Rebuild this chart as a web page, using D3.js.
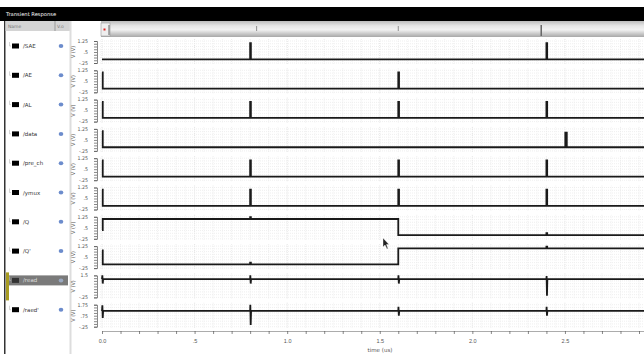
<!DOCTYPE html>
<html>
<head>
<meta charset="utf-8">
<script src="https://cdn.jsdelivr.net/npm/d3@7"></script>
<style>
  html, body { margin: 0; padding: 0; background: #fff; }
  svg { display: block; font-family: "DejaVu Sans", sans-serif; }
  .narrow { font-family: "Liberation Sans Narrow", "DejaVu Sans Condensed", sans-serif; }
</style>
</head>
<body>
<svg id="chart" width="644" height="354"></svg>
<script>
// signal names shown in the left list
const names = ["/SAE", "/AE", "/AL", "/data", "/pre_ch", "/ymux", "/Q", "/Q'", "/read", "/raed'"];

// y domain + tick labels for each strip
const yDomains = [
  [-0.25, 1.25], [-0.25, 1.25], [-0.25, 1.25], [-0.25, 1.25], [-0.25, 1.25],
  [-0.25, 1.25], [-0.25, 1.25], [-0.25, 1.25], [-0.25, 1.5], [-0.25, 1.75]
];
const yTickLabels = [
  [1.25, 0.5, -0.25], [1.25, 0.5, -0.25], [1.25, 0.5, -0.25], [1.25, 0.5, -0.25], [1.25, 0.5, -0.25],
  [1.25, 0.5, -0.25], [1.25, 0.5, -0.25], [1.25, 0.5, -0.25], [1.5, -0.25], [1.75, 0.75, -0.25]
];

// x axis
const timeDomain = [0, 2.927];
const xTickLabels = ["0.0", ".5", "1.0", "1.5", "2.0", "2.5"];

// waveforms: [time (us), volts]
const sae = [[0,0],[0.8,0],[0.8,1.1],[0.804,1.1],[0.804,0],[2.4,0],[2.4,1.1],[2.404,1.1],[2.404,0],[2.927,0]];
const ae = [[0,1.1],[0.004,1.1],[0.004,0],[1.6,0],[1.6,1.1],[1.604,1.1],[1.604,0],[2.927,0]];
const al = [[0,1.1],[0.004,1.1],[0.004,0],[0.8,0],[0.8,1.1],[0.804,1.1],[0.804,0],[1.6,0],[1.6,1.1],[1.604,1.1],[1.604,0],[2.4,0],[2.4,1.1],[2.404,1.1],[2.404,0],[2.927,0]];
const data = [[0,1.1],[0.004,1.1],[0.004,0],[2.502,0],[2.502,1.0],[2.51,1.0],[2.51,0],[2.927,0]];
const preCh = [[0,1.1],[0.004,1.1],[0.004,0],[0.8,0],[0.8,1.1],[0.804,1.1],[0.804,0],[1.6,0],[1.6,1.1],[1.604,1.1],[1.604,0],[2.4,0],[2.4,1.1],[2.404,1.1],[2.404,0],[2.927,0]];
const ymux = [[0,1.1],[0.004,1.1],[0.004,0],[0.8,0],[0.8,1.1],[0.804,1.1],[0.804,0],[1.6,0],[1.6,1.1],[1.604,1.1],[1.604,0],[2.4,0],[2.4,1.1],[2.404,1.1],[2.404,0],[2.927,0]];
const q = [[0,0.35],[0.004,0.35],[0.004,1.1],[0.8,1.1],[0.8,1.22],[0.804,1.22],[0.804,1.1],[1.6,1.1],[1.6,0],[2.4,0],[2.4,0.14],[2.404,0.14],[2.404,0],[2.927,0]];
const qb = [[0,0.95],[0.004,0.95],[0.004,0],[0.8,0],[0.8,0.12],[0.804,0.12],[0.804,0],[1.6,0],[1.6,1.1],[2.4,1.1],[2.4,1.22],[2.404,1.22],[2.404,1.1],[2.927,1.1]];
const read = [[0,1.2],[0.002,1.5],[0.004,0.85],[0.006,1.2],[0.8,1.2],[0.801,1.5],[0.803,0.85],[0.805,1.2],[1.6,1.2],[1.601,1.5],[1.603,0.85],[1.605,1.2],[2.4,1.2],[2.401,1.45],[2.403,-0.12],[2.405,1.2],[2.927,1.2]];
const raed = [[0,1.18],[0.002,1.7],[0.004,0.55],[0.006,1.18],[0.8,1.18],[0.801,1.75],[0.803,-0.1],[0.805,1.18],[1.6,1.18],[1.601,1.55],[1.603,0.75],[1.605,1.18],[2.4,1.18],[2.401,1.55],[2.403,0.75],[2.405,1.18],[2.927,1.18]];
const waves = [sae, ae, al, data, preCh, ymux, q, qb, read, raed];

const svg = d3.select("#chart");
const W = 644, H = 354;
const plotLeft = 100;
const rowStep = 29.3, firstBottom = 63, stripH = 22;

const x = d3.scaleLinear().domain(timeDomain).range([102, 644]);

// cadence style: drop the leading zero ("-.25", ".5")
const fmtV = d => String(d).replace(/^(-?)0\./, "$1.");

// ---- window chrome ----
svg.append("rect").attr("x", 0).attr("y", 7).attr("width", W).attr("height", 14).attr("fill", "#000");
svg.append("text").attr("x", 6).attr("y", 16).attr("fill", "#fff")
  .style("font-size", "5.2px").text("Transient Response");

// left panel
svg.append("rect").attr("x", 4).attr("y", 21).attr("width", 1.5).attr("height", H - 21).attr("fill", "#333");
svg.append("rect").attr("x", 5.5).attr("y", 21).attr("width", 64.5).attr("height", 10).attr("fill", "#d4d4d4");
svg.append("line").attr("x1", 55).attr("x2", 55).attr("y1", 21).attr("y2", 31).attr("stroke", "#999");
svg.append("text").attr("x", 8).attr("y", 28).attr("fill", "#777").style("font-size", "4.5px").text("Name");
svg.append("text").attr("x", 57).attr("y", 28).attr("fill", "#777").style("font-size", "4.5px").text("V.o");
svg.append("rect").attr("x", 69.5).attr("y", 21).attr("width", 2).attr("height", H - 21).attr("fill", "#ddd");

// scrollbar strip
const grad = svg.append("defs").append("linearGradient").attr("id", "sb")
  .attr("x1", 0).attr("x2", 0).attr("y1", 0).attr("y2", 1);
grad.append("stop").attr("offset", "0%").attr("stop-color", "#bdbdbd");
grad.append("stop").attr("offset", "30%").attr("stop-color", "#e6e6e6");
grad.append("stop").attr("offset", "55%").attr("stop-color", "#f2f2f2");
grad.append("stop").attr("offset", "75%").attr("stop-color", "#d0d0d0");
grad.append("stop").attr("offset", "100%").attr("stop-color", "#a8a8a8");
svg.append("rect").attr("x", 101).attr("y", 21).attr("width", W - 101).attr("height", 16).attr("fill", "url(#sb)");
svg.append("rect").attr("x", 101).attr("y", 23).attr("width", 9).attr("height", 13).attr("fill", "#eee").attr("stroke", "#999").attr("stroke-width", 0.6);
svg.append("rect").attr("x", 103.5).attr("y", 28.5).attr("width", 2).attr("height", 2).attr("fill", "#e02020");
svg.append("line").attr("x1", 109).attr("x2", 109).attr("y1", 25).attr("y2", 35).attr("stroke", "#666");
[0.835, 1.6, 2.372].forEach((t, i) => {
  svg.append("line").attr("x1", x(t)).attr("x2", x(t)).attr("y1", i === 2 ? 25 : 26).attr("y2", i === 2 ? 36 : 31)
    .attr("stroke", i === 2 ? "#666" : "#777").attr("stroke-width", i === 2 ? 1.5 : 0.8);
});

// ---- strips ----
const line = d3.line();
names.forEach((name, i) => {
  const bottom = firstBottom + i * rowStep;
  const top = bottom - stripH;
  const y = d3.scaleLinear().domain(yDomains[i]).range([bottom, top]);
  const g = svg.append("g");

  // fine grid
  const gx = d3.range(0, 2.93, 0.05);
  g.selectAll(".vg").data(gx).join("line")
    .attr("x1", d => x(d)).attr("x2", d => x(d)).attr("y1", top - 2).attr("y2", bottom + 1)
    .attr("stroke", (d, k) => k % 10 === 0 ? "#dcdcdc" : (k % 2 === 0 ? "#e8e8e8" : "#f1f1f1"))
    .attr("stroke-width", 0.8).attr("stroke-dasharray", "1,1");
  const [lo, hi] = yDomains[i];
  const gy = d3.range(0, 9).map(k => lo + (hi - lo) * k / 8);
  g.selectAll(".hg").data(gy).join("line")
    .attr("x1", plotLeft).attr("x2", W).attr("y1", d => y(d)).attr("y2", d => y(d))
    .attr("stroke", "#ebebeb").attr("stroke-width", 0.8).attr("stroke-dasharray", "1,1");

  // ruler y axis
  g.append("g").attr("transform", "translate(97,0)")
    .call(d3.axisLeft(y).tickValues(gy).tickSize(3).tickFormat(""))
    .call(a => a.selectAll("line").attr("stroke", "#555").attr("stroke-width", 0.7))
    .call(a => a.select(".domain").attr("stroke", "#555").attr("stroke-width", 0.7));
  g.selectAll(".yl").data(yTickLabels[i]).join("text")
    .attr("class", "narrow")
    .attr("x", 88).attr("y", d => y(d) + 1.8).attr("text-anchor", "end")
    .attr("fill", "#555").style("font-size", "5.2px")
    .text(fmtV);
  g.append("text").attr("class", "narrow")
    .attr("transform", `translate(75,${(top + bottom) / 2}) rotate(-90)`)
    .attr("text-anchor", "middle").attr("fill", "#555").style("font-size", "5.5px").text("V (V)");

  // trace
  g.append("path").datum(waves[i])
    .attr("d", line.x(d => x(d[0])).y(d => y(d[1])))
    .attr("fill", "none").attr("stroke", "#1a1a1a").attr("stroke-width", 1.8)
    .attr("stroke-linejoin", "miter");

  // list entry
  const ly = 46 + i * rowStep;
  const isSel = name === "/read";
  if (isSel) {
    svg.append("rect").attr("x", 7).attr("y", ly - 5).attr("width", 61).attr("height", 10).attr("fill", "#7a7a7a");
    svg.append("rect").attr("x", 6).attr("y", ly - 8).attr("width", 3).attr("height", 28).attr("fill", "#a89c22");
  }
  svg.append("path").attr("d", `M9.5,${ly - 4}V${ly}H11`).attr("fill", "none").attr("stroke", "#bbb").attr("stroke-width", 0.6);
  svg.append("rect").attr("x", 12).attr("y", ly - 2.5).attr("width", 7).attr("height", 5)
    .attr("fill", isSel ? "#333" : "#000");
  svg.append("text").attr("x", 23).attr("y", ly + 2).attr("fill", isSel ? "#ddd" : "#333")
    .style("font-size", "5.5px").text(name);
  svg.append("ellipse").attr("cx", 61).attr("cy", ly).attr("rx", 2.3).attr("ry", 2)
    .attr("fill", isSel ? "#9aa8c0" : "#6c8ccc");
});

// ---- x axis ----
const xTicks = d3.range(0, 30).map(k => k / 10);
const xa = svg.append("g").attr("transform", "translate(0,331)")
  .call(d3.axisBottom(x).tickValues(xTicks).tickSize(3).tickSizeOuter(0)
    .tickFormat(d => {
      const k = Math.round(d * 10);
      return k % 5 === 0 ? xTickLabels[k / 5] : "";
    }));
xa.selectAll("line").attr("stroke", "#555").attr("stroke-width", 0.7);
xa.select(".domain").attr("stroke", "#888").attr("stroke-width", 0.7);
xa.selectAll("text").attr("fill", "#555").style("font-size", "5.5px").attr("dy", "0.9em").attr("y", 7);
svg.append("text").attr("x", 380).attr("y", 352).attr("text-anchor", "middle")
  .attr("fill", "#555").style("font-size", "5.5px").text("time (us)");

// mouse cursor
svg.append("path").attr("d", "M383,238 L383,247 L385,245 L387,249 L388,248.5 L386.5,244.5 L389,244.5 Z")
  .attr("fill", "#222").attr("stroke", "#fff").attr("stroke-width", 0.4);
</script>
</body>
</html>
